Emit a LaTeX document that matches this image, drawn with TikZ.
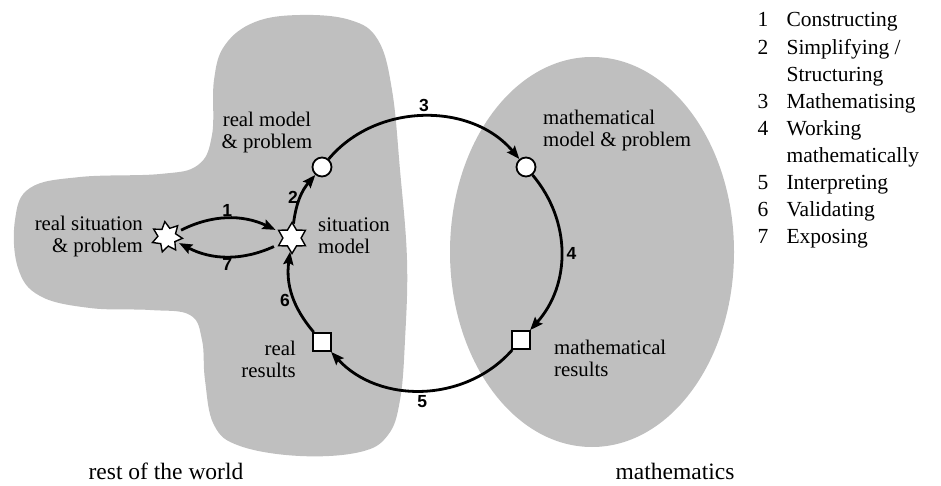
\documentclass[tikz,border=0pt]{standalone}
\usepackage{fontspec}
\setmainfont{Liberation Serif}
\setsansfont{Liberation Sans}
\usetikzlibrary{arrows.meta,positioning,shapes.geometric}
\definecolor{areagray}{RGB}{191,191,191}

\begin{document}
\begin{tikzpicture}[x=1pt, y=1pt, font=\fontsize{20.8}{22}\selectfont]
    \tikzset{
        ring/.style={circle, draw, fill=white, line width=1.8pt, minimum size=19pt, inner sep=0pt},
        sq/.style={rectangle, draw, fill=white, line width=1.8pt, minimum size=18pt, inner sep=0pt},
        burst/.style={star, star points=#1, star point ratio=1.7, draw, fill=white, line width=1.4pt, minimum size=31pt, inner sep=0pt},
        flow/.style={-{Stealth[length=13pt, width=10pt, inset=2pt]}, line width=2.8pt},
        num/.style={font=\sffamily\bfseries\fontsize{17.5}{18}\selectfont, inner sep=1pt},
        txt/.style={inner sep=0pt, align=#1},
        txt/.default=center
    }
    \useasboundingbox (0,0) rectangle (941,485);

    % ---- REGIONS ----

    % rest of the world
    \fill[areagray] plot[smooth cycle, tension=0.65] coordinates {
        (300,470) (350,465) (378,445) (392,395) (400,315) (407,225)
        (405,145) (400,85) (388,50) (360,33) (300,29) (240,39)
        (214,60) (205,105) (202,145) (190,170) (150,175) (90,177)
        (40,189) (18,217) (15,265) (30,297) (80,308) (160,311)
        (198,320) (212,350) (214,405) (225,440) (255,463)};
    % mathematics
    \fill[areagray] (592,233) ellipse [x radius=142, y radius=195];

    % ---- STATES ----
    \node[burst=7, rotate=8] (rsit) at (167,248) {};
    \node[burst=6] (sitm) at (292,247) {};
    \node[ring] (rmod) at (322,318) {};
    \node[ring] (mmod) at (526,318) {};
    \node[sq] (mres) at (521,145) {};
    \node[sq] (rres) at (322,143) {};

    \node[txt=right, anchor=east] (rsitlbl) at (143,249) {real situation\\\& problem};
    \node[txt=left, anchor=west] (sitmlbl) at (318,249) {situation\\model};
    \node[txt] (rmodlbl) at (267,353) {real model\\\& problem};
    \node[txt=left, anchor=west] (mmodlbl) at (543,354) {mathematical\\model \& problem};
    \node[txt=left, anchor=west] (mreslbl) at (554,127) {mathematical\\results};
    \node[txt=right, anchor=east] (rreslbl) at (296,126) {real\\results};

    % ---- CYCLE ----
    \draw[flow, shorten <=5pt, shorten >=3pt] (rsit) to[bend left=26] node[num, above] (n1) {1} (sitm);
    \draw[flow, shorten <=5pt, shorten >=3pt] (sitm) to[bend left=26] node[num, below] (n7) {7} (rsit);
    \draw[flow] (sitm) to[bend left=17] node[num, left] (n2) {2} (rmod);
    \draw[flow] (rmod) to[bend left=50] node[num, above=2pt] (n3) {3} (mmod);
    \draw[flow] (mmod) to[bend left=41] node[num, right=3pt] (n4) {4} (mres);
    \draw[flow] (mres) to[bend left=48] node[num, below=3pt] (n5) {5} (rres);
    \draw[flow] (rres) to[bend left=24] node[num, left, yshift=-6pt] (n6) {6} (sitm);

    % ---- CAPTIONS ----
    \node[anchor=base, font=\fontsize{23.5}{24}\selectfont] (world) at (166,6) {rest of the world};
    \node[anchor=base, font=\fontsize{23.5}{24}\selectfont] (maths) at (675,6) {mathematics};

    % ---- LEGEND ----
    \foreach \k/\r in {1/0, 2/1, 3/3, 4/4, 5/6, 6/7, 7/8} {
            \node[anchor=base, font=\fontsize{21.5}{22}\selectfont] (key\k) at (763,458-27.1*\r) {\k};
        }
    \foreach \r/\t in {0/Constructing, 1/{Simplifying /}, 2/Structuring, 3/Mathematising, 4/Working,
                       5/mathematically, 6/Interpreting, 7/Validating, 8/Exposing} {
            \node[anchor=base west, font=\fontsize{21.5}{22}\selectfont] (step\r) at (783,458-27.1*\r) {\t};
        }

\end{tikzpicture}
\end{document}
